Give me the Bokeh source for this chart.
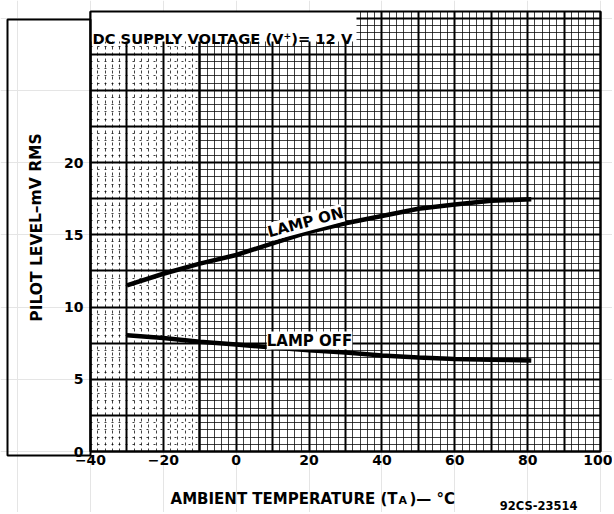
from bokeh.plotting import figure
from bokeh.models import (Label, BoxAnnotation, FixedTicker, SingleIntervalTicker,
                          Range1d, LinearAxis, Grid)
from bokeh.embed import file_html
from bokeh.resources import INLINE

# ---- data ----
temp_c = [-30, -20, -10, 0, 10, 20, 30, 40, 50, 60, 70, 81]
lamp_on_mv = [11.5, 12.3, 13.0, 13.6, 14.4, 15.2, 15.8, 16.3, 16.8, 17.1, 17.35, 17.45]
lamp_off_mv = [8.05, 7.85, 7.6, 7.4, 7.2, 7.0, 6.85, 6.65, 6.5, 6.4, 6.35, 6.3]
x_ticks = [-40, -20, 0, 20, 40, 60, 80, 100]
y_ticks = [0, 5, 10, 15, 20]

# chart (grid) extent in data units
X0, X1 = -40, 100
Y0, Y1 = 0, 30.45
X_SPLIT = -10   # left part of the printed grid has dotted fine lines

# page layout (pixels)
W, H = 612, 512
GL, GR, GT, GB = 90, 600, 11, 451   # grid area on the page
PXX = (GR - GL) / (X1 - X0)
PXY = (GB - GT) / (Y1 - Y0)

def dx(px):
    return X0 + (px - GL) / PXX

def dy(py):
    return Y0 + (GB - py) / PXY

FONT = "DejaVu Sans"

p = figure(width=W, height=H, output_backend="svg", toolbar_location=None,
           x_range=Range1d(dx(0), dx(W)), y_range=Range1d(dy(H), dy(0)),
           x_axis_location=None, y_axis_location=None, min_border=0)
p.background_fill_color = "white"
p.border_fill_color = "white"
p.outline_line_color = None

# grid: dotted fine lines on the left part, solid on the rest
def add_grid(dim, bounds, cross, dash_minor, alpha_minor):
    t = (SingleIntervalTicker(interval=10, num_minor_ticks=5) if dim == 0
         else SingleIntervalTicker(interval=2.5, num_minor_ticks=5))
    g = Grid(dimension=dim, ticker=t, bounds=bounds, cross_bounds=cross)
    g.grid_line_color = "black"
    g.grid_line_width = 2
    g.minor_grid_line_color = "black"
    g.minor_grid_line_width = 1
    g.minor_grid_line_alpha = alpha_minor
    g.minor_grid_line_dash = dash_minor
    p.add_layout(g)

add_grid(0, (X0, X_SPLIT), (Y0, Y1), "3 3", 0.75)
add_grid(0, (X_SPLIT, X1), (Y0, Y1), "solid", 0.75)
add_grid(1, (Y0, Y1), (X0, X_SPLIT), "2 5", 0.75)
add_grid(1, (Y0, Y1), (X_SPLIT, X1), "solid", 0.75)

# axes at the edges of the grid
xaxis = LinearAxis(fixed_location=Y0, ticker=FixedTicker(ticks=x_ticks))
yaxis = LinearAxis(fixed_location=X0, ticker=FixedTicker(ticks=y_ticks))
for ax in (xaxis, yaxis):
    ax.axis_line_color = None
    ax.major_tick_line_color = None
    ax.minor_tick_line_color = None
    ax.major_tick_out = 0
    ax.major_tick_in = 0
    ax.minor_tick_out = 0
    ax.minor_tick_in = 0
    ax.major_label_text_font = FONT
    ax.major_label_text_font_style = "bold"
    ax.major_label_text_font_size = "14px"
    ax.major_label_text_color = "black"
xaxis.major_label_standoff = 3
yaxis.major_label_standoff = 7
p.add_layout(xaxis, "below")
p.add_layout(yaxis, "left")

p.line(temp_c, lamp_on_mv, line_width=4.5, line_color="black")
p.line(temp_c, lamp_off_mv, line_width=4.5, line_color="black")

# header box
p.add_layout(BoxAnnotation(left=X0, right=dx(356), top=Y1, bottom=dy(41),
                           fill_color="white", fill_alpha=1, line_color=None))
# grid outline
p.add_layout(BoxAnnotation(left=X0, right=X1, top=Y1, bottom=Y0,
                           fill_color=None, line_color="black", line_alpha=1,
                           line_width=2))
# outer box on the left
p.add_layout(BoxAnnotation(left=dx(7), right=X0, top=dy(19), bottom=dy(455),
                           fill_color=None, line_color="black", line_alpha=1,
                           line_width=2))

def label(px, py, text, size, align="left", baseline="alphabetic", angle=0.0, bg=None):
    kw = dict(x=dx(px), y=dy(py), text=text, angle=angle,
              text_font=FONT, text_font_style="bold", text_font_size=size,
              text_color="black", text_align=align, text_baseline=baseline)
    if bg:
        kw.update(background_fill_color=bg, background_fill_alpha=1)
    p.add_layout(Label(**kw))

label(92, 38, "DC SUPPLY VOLTAGE (V\u207a)= 12 V", "14.7px")
label(305, 222, "LAMP ON", "15px", align="center", baseline="middle", angle=0.26, bg="white")
label(309, 340, "LAMP OFF", "15px", align="center", baseline="middle", bg="white")

label(36, 227, "PILOT LEVEL\u2013mV RMS", "15.5px", align="center", baseline="middle",
      angle=1.5708)
label(397, 498, "AMBIENT TEMPERATURE (T", "15px", align="right")
label(398, 500, "A", "11px")
label(409, 498, ")\u2014 \u00b0C", "15px")
label(577, 505, "92CS-23514", "11.5px", align="right")

open("out.html", "w").write(file_html(p, INLINE))
